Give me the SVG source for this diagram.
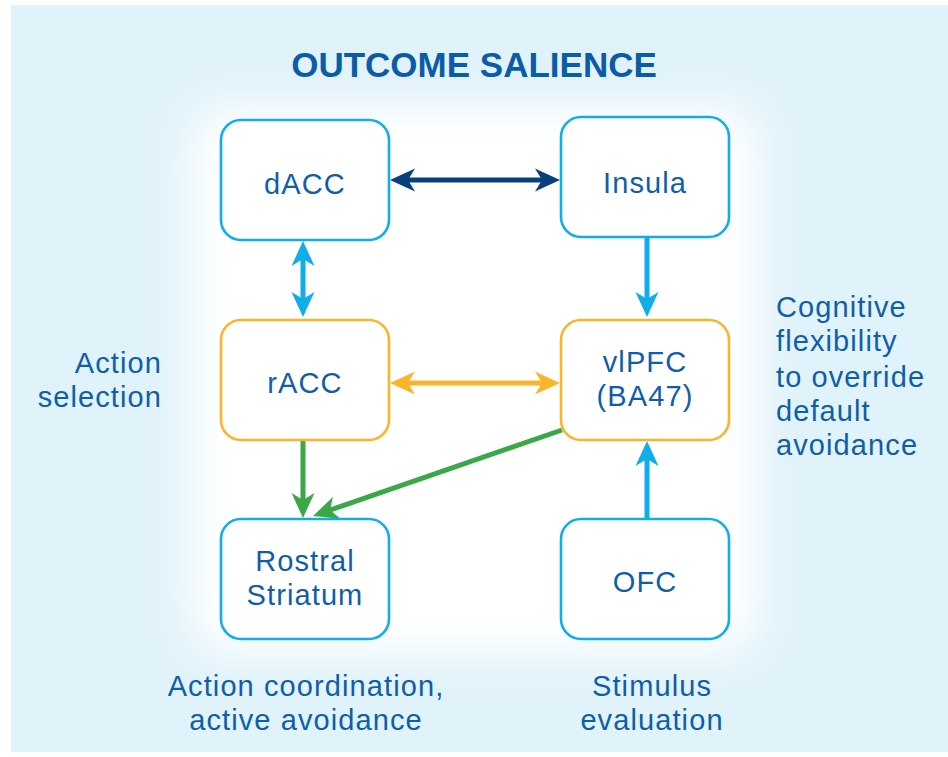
<svg xmlns="http://www.w3.org/2000/svg" width="948" height="757" viewBox="0 0 948 757">
  <style>
    .box { fill: #ffffff; stroke: #0FAEEB; stroke-width: 2.6; }
    .box.o { stroke: #FCB42C; }
    .lbl { font-family: "Liberation Sans", Arial, sans-serif; font-size: 29px; letter-spacing: 1.1px; fill: #0F5EA8; }
    .c { text-anchor: middle; }
    .title { font-family: "Liberation Sans", Arial, sans-serif; font-size: 35px; font-weight: bold; fill: #0B5CA8; text-anchor: middle; }
    .ln { fill: none; stroke-width: 5; }
  </style>
  <defs>
    <filter id="glow" x="-20%" y="-20%" width="140%" height="140%">
      <feGaussianBlur stdDeviation="22"/>
    </filter>
    <marker id="aNavy" viewBox="-16 -13 28 26" refX="0" refY="0" markerWidth="28" markerHeight="26" markerUnits="userSpaceOnUse" orient="auto-start-reverse">
      <path d="M10,0 L-15,-11.5 L-8,0 L-15,11.5 Z" fill="#07407B"/>
    </marker>
    <marker id="aBlue" viewBox="-16 -13 28 26" refX="0" refY="0" markerWidth="28" markerHeight="26" markerUnits="userSpaceOnUse" orient="auto-start-reverse">
      <path d="M10,0 L-15,-11.5 L-8,0 L-15,11.5 Z" fill="#0FAEEB"/>
    </marker>
    <marker id="aOrange" viewBox="-16 -13 28 26" refX="0" refY="0" markerWidth="28" markerHeight="26" markerUnits="userSpaceOnUse" orient="auto-start-reverse">
      <path d="M10,0 L-15,-11.5 L-8,0 L-15,11.5 Z" fill="#FCB42C"/>
    </marker>
    <marker id="aGreen" viewBox="-16 -13 28 26" refX="0" refY="0" markerWidth="28" markerHeight="26" markerUnits="userSpaceOnUse" orient="auto-start-reverse">
      <path d="M10,0 L-15,-11.5 L-8,0 L-15,11.5 Z" fill="#3AA846"/>
    </marker>
  </defs>

  <rect x="0" y="0" width="948" height="757" fill="#ffffff"/>
  <rect x="11" y="5" width="937" height="747" fill="#E0F2FA"/>
  <rect x="190" y="105" width="570" height="550" rx="40" fill="#ffffff" filter="url(#glow)"/>

  <text class="title" x="474" y="77">OUTCOME SALIENCE</text>

  <g id="connectors">
    <line class="ln" x1="400" y1="180" x2="550" y2="180" stroke="#07407B" marker-start="url(#aNavy)" marker-end="url(#aNavy)"/>
    <line class="ln" x1="303" y1="251" x2="303" y2="307" stroke="#0FAEEB" marker-start="url(#aBlue)" marker-end="url(#aBlue)"/>
    <line class="ln" x1="647" y1="238" x2="647" y2="307" stroke="#0FAEEB" marker-end="url(#aBlue)"/>
    <line class="ln" x1="400" y1="383" x2="550" y2="383" stroke="#FCB42C" marker-start="url(#aOrange)" marker-end="url(#aOrange)"/>
    <line class="ln" x1="303" y1="440" x2="303" y2="508" stroke="#3AA846" marker-end="url(#aGreen)"/>
    <line class="ln" x1="562" y1="430" x2="322.5" y2="512.7" stroke="#3AA846" marker-end="url(#aGreen)"/>
    <line class="ln" x1="647" y1="519" x2="647" y2="451" stroke="#0FAEEB" marker-end="url(#aBlue)"/>
  </g>

  <g id="dACC">
    <rect class="box" x="221" y="120" width="168" height="120" rx="20"/>
    <text class="lbl c" x="305" y="194">dACC</text>
  </g>
  <g id="Insula">
    <rect class="box" x="561" y="117" width="168" height="120" rx="20"/>
    <text class="lbl c" x="645" y="193">Insula</text>
  </g>
  <g id="rACC">
    <rect class="box o" x="221" y="320" width="168" height="120" rx="20"/>
    <text class="lbl c" x="305" y="393">rACC</text>
  </g>
  <g id="vlPFC">
    <rect class="box o" x="561" y="320" width="168" height="120" rx="20"/>
    <text class="lbl c" x="645" y="372">vlPFC</text>
    <text class="lbl c" x="645" y="406">(BA47)</text>
  </g>
  <g id="RostralStriatum">
    <rect class="box" x="221" y="519" width="168" height="120" rx="20"/>
    <text class="lbl c" x="305" y="571">Rostral</text>
    <text class="lbl c" x="305" y="605">Striatum</text>
  </g>
  <g id="OFC">
    <rect class="box" x="561" y="519" width="168" height="120" rx="20"/>
    <text class="lbl c" x="645" y="592">OFC</text>
  </g>

  <g id="labels">
    <text class="lbl" x="162" y="373" text-anchor="end">Action</text>
    <text class="lbl" x="162" y="407" text-anchor="end">selection</text>
    <text class="lbl" x="776" y="317">Cognitive</text>
    <text class="lbl" x="776" y="351">flexibility</text>
    <text class="lbl" x="776" y="387">to override</text>
    <text class="lbl" x="776" y="421">default</text>
    <text class="lbl" x="776" y="455">avoidance</text>
    <text class="lbl c" x="306" y="696">Action coordination,</text>
    <text class="lbl c" x="306" y="730">active avoidance</text>
    <text class="lbl c" x="652" y="696">Stimulus</text>
    <text class="lbl c" x="652" y="730">evaluation</text>
  </g>
</svg>
